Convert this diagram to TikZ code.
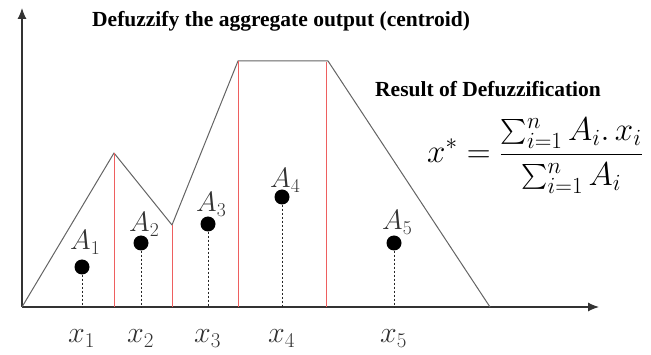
\RequirePackage{fix-cm}
\documentclass[tikz,border=0pt]{standalone}
\usepackage{amsmath}
\usepackage{fontspec}
\setmainfont{Liberation Serif}
\usetikzlibrary{arrows.meta}
\definecolor{mygray}{RGB}{100,100,100}
\definecolor{myred}{RGB}{238,95,95}

\begin{document}
\begin{tikzpicture}[x=1pt,y=-1pt,
  axis/.style={line width=1.1pt, color=black!80, -{Latex[length=11pt,width=9pt]}},
  dot/.style={circle, fill=black, inner sep=0pt, minimum size=15pt},
  mathlbl/.style={inner sep=0pt, anchor=base west, color=black!80, font=\fontsize{28}{30}\selectfont},
  headline/.style={inner sep=0pt, anchor=base west, font=\fontsize{21.5}{24}\selectfont\bfseries}]
  \def\xo{22}
  \def\yo{307}
  \useasboundingbox (0,0) rectangle (651,355);

  %Axes
  \coordinate (O) at (\xo,\yo);
  \coordinate (xend) at (599,\yo);
  \coordinate (yend) at (\xo,8);
  \draw[axis] (O) -- (xend);
  \draw[axis] (O) -- (yend);

  %Aggregate output
  \coordinate (p1) at (114,153);
  \coordinate (p2) at (172,225);
  \coordinate (p3) at (238,61);
  \coordinate (p4) at (328,61);
  \coordinate (p5) at (490,\yo);
  \draw[mygray, line width=1pt, line join=round] (O) -- (p1) -- (p2) -- (p3) -- (p4) -- (p5);

  %Areas split by red lines
  \coordinate (r4) at (326,62);
  \foreach \p in {p1,p2,p3,r4}
    \draw[myred, line width=1pt] (\p) -- (\p |- O);

  %Centroids of the areas
  \foreach \i/\x/\y/\b in {1/82/267/250, 2/141/243/232, 3/208/224/212, 4/282/197/188, 5/394/243/230}
  {
    \node[dot] (c\i) at (\x,\y) {};
    \draw[line width=1pt, black!85, dash pattern=on 2pt off 2pt] (c\i) -- (c\i |- O);
    \node[mathlbl] (a\i) at (\x-12,\b) {$A_{\i}$};
    \node[mathlbl, font=\fontsize{30}{32}\selectfont] (x\i) at (\x-14,343) {$x_{\i}$};
  }

  %Titles and formula
  \node[headline] (title) at (92,27) {Defuzzify the aggregate output (centroid)};
  \node[headline] (result) at (375,97) {Result of Defuzzification};
  \node[inner sep=0pt, anchor=base west, font=\fontsize{33}{36}\selectfont] (formula) at (427,163)
    {$\displaystyle x^{*} = \frac{\sum_{i=1}^{n} A_i.\, x_i}{\sum_{i=1}^{n} A_i}$};
\end{tikzpicture}
\end{document}
